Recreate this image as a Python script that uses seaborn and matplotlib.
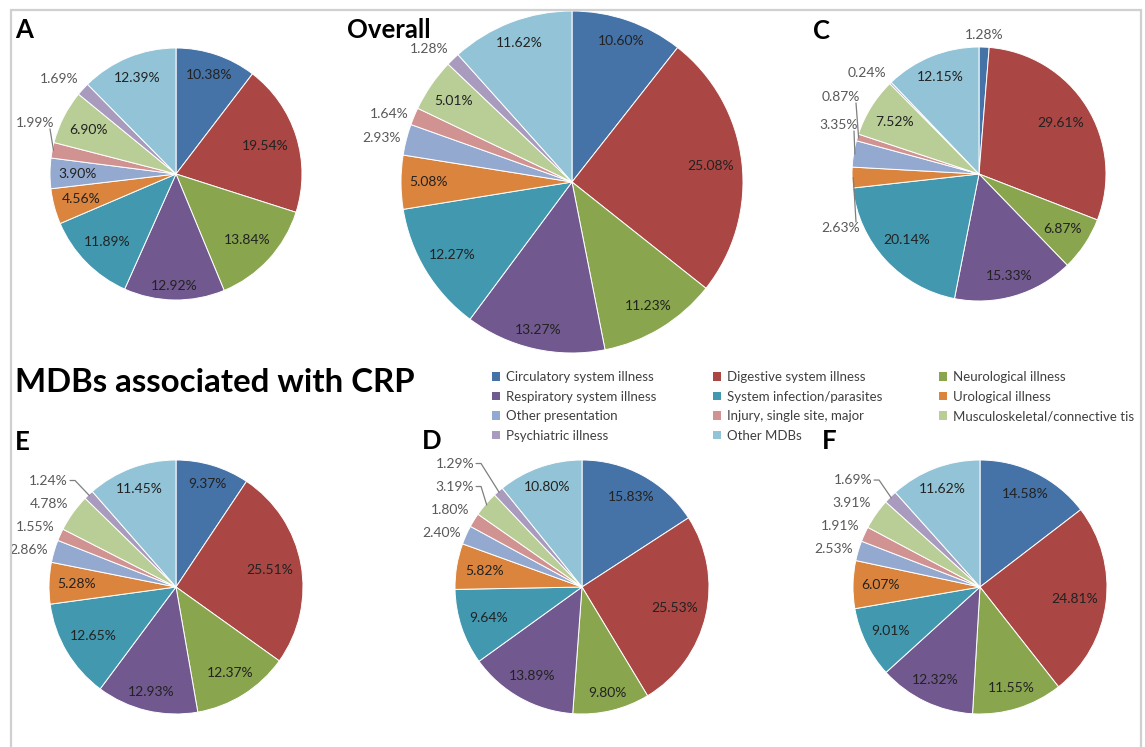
import numpy as np
import pandas as pd
import matplotlib
matplotlib.use("Agg")
import matplotlib.pyplot as plt
import seaborn as sns
from matplotlib.patches import Patch, Rectangle

# ---------------- data ----------------
categories = [
    "Circulatory system illness", "Digestive system illness", "Neurological illness",
    "Respiratory system illness", "System infection/parasites", "Urological illness",
    "Other presentation", "Injury, single site, major", "Musculoskeletal/connective tis",
    "Psychiatric illness", "Other MDBs",
]
pie_A = [10.38, 19.54, 13.84, 12.92, 11.89, 4.56, 3.90, 1.99, 6.90, 1.69, 12.39]
pie_overall = [10.60, 25.08, 11.23, 13.27, 12.27, 5.08, 2.93, 1.64, 5.01, 1.28, 11.62]
pie_C = [1.28, 29.61, 6.87, 15.33, 20.14, 2.63, 3.35, 0.87, 7.52, 0.24, 12.15]
pie_E = [9.37, 25.51, 12.37, 12.93, 12.65, 5.28, 2.86, 1.55, 4.78, 1.24, 11.45]
pie_D = [15.83, 25.53, 9.80, 13.89, 9.64, 5.82, 2.40, 1.80, 3.19, 1.29, 10.80]
pie_F = [14.58, 24.81, 11.55, 12.32, 9.01, 6.07, 2.53, 1.91, 3.91, 1.69, 11.62]
panel_titles = ["A", "Overall", "C", "E", "D", "F"]
main_title = "MDBs associated with CRP"

colors = ["#4572A7", "#AA4643", "#89A54E", "#71588F", "#4198AF", "#DB843D",
          "#93A9CF", "#D19392", "#B9CD96", "#A99BBD", "#92C3D6"]

# ---------------- style ----------------
sns.set_theme(style="white")
plt.rcParams["font.family"] = ["Lato", "DejaVu Sans"]
palette = sns.color_palette(colors)

W, H = 1145, 747
fig = plt.figure(figsize=(W / 100, H / 100), dpi=100)
fig.patch.set_facecolor("white")
renderer = fig.canvas.get_renderer()

# frame
fig.patches.append(Rectangle((11 / W, -0.02), (1141 - 11) / W, 1.02 - 10 / H,
                             transform=fig.transFigure, fill=False,
                             edgecolor="#d0d0d0", lw=1.6, zorder=0))

# layout (pixels): center x, center y, radius, outside-label indices
layout = {
    "A": (176, 174, 126, [7, 9]),
    "Overall": (572, 182, 171, [6, 7, 9]),
    "C": (979, 174, 127, [0, 5, 6, 7, 9]),
    "E": (176, 587, 127, [6, 7, 8, 9]),
    "D": (582, 587, 127, [6, 7, 8, 9]),
    "F": (980, 587, 127, [6, 7, 8, 9]),
}
# manual anchor overrides (px relative to center, y up) for crowded labels
overrides = {
    ("A", 7): (-122, 51),
    ("C", 7): (-119, 77),
    ("C", 6): (-121, 49),
    ("C", 5): (-119, -54),
}
title_pos = {  # left x, baseline y
    "A": (15, 38), "Overall": (347, 38), "C": (813, 39),
    "E": (15, 450), "D": (422, 449), "F": (822, 449),
}
data = {"A": pie_A, "Overall": pie_overall, "C": pie_C,
        "E": pie_E, "D": pie_D, "F": pie_F}

IN_COLOR = "#222222"
OUT_COLOR = "#595959"
LBL_FS = 10


def text_size(s, fs):
    t = fig.text(0, 0, s, fontsize=fs)
    bb = t.get_window_extent(renderer)
    t.remove()
    return bb.width, bb.height


def draw_pie(name):
    values = data[name]
    cx, cy, R, outside = layout[name]
    ax = fig.add_axes([(cx - R) / W, 1 - (cy + R) / H, 2 * R / W, 2 * R / H])
    ax.pie(values, colors=palette, startangle=90, counterclock=False, radius=1,
           wedgeprops=dict(edgecolor="white", linewidth=0.7))
    ax.set_xlim(-1, 1)
    ax.set_ylim(-1, 1)
    ax.set_aspect("equal")
    ax.axis("off")

    total = float(np.sum(values))
    cum = np.cumsum([0] + list(values))
    outs = []
    for i, v in enumerate(values):
        mid = np.deg2rad(90 - 360 * (cum[i] + v / 2) / total)
        c, s = np.cos(mid), np.sin(mid)
        lab = f"{v:.2f}%"
        w, h = text_size(lab, LBL_FS)
        if i not in outside:
            d = R - 8 - (abs(c) * w / 2 + abs(s) * h / 2)
            ax.text(d * c / R, d * s / R, lab, ha="center", va="center",
                    fontsize=LBL_FS, color=IN_COLOR)
        else:
            g = R + 6
            ax_x, ax_y = g * c, g * s
            if c < -0.3:
                ha = "right"
            elif c > 0.3:
                ha = "left"
            else:
                ha = "center"
            yc = ax_y
            if s > 0.6:
                yc = ax_y + h / 2
            elif s < -0.6:
                yc = ax_y - h / 2
            outs.append(dict(i=i, lab=lab, c=c, s=s, x=ax_x, y=yc, nx=ax_x, ny=yc,
                             ha=ha, w=w, h=h))
    # stacking of left-side labels (bottom to top)
    left = sorted([o for o in outs if o["ha"] == "right"], key=lambda o: o["y"])
    prev = None
    for o in left:
        if prev is not None and o["y"] < prev + 23:
            o["y"] = prev + 23
        if o["y"] - o["ny"] > 3:
            o["x"] = min(o["x"], -0.85 * R)
        prev = o["y"]
    for o in outs:
        key = (name, o["i"])
        if key in overrides:
            o["x"], o["y"] = overrides[key]
        ax.text(o["x"] / R, o["y"] / R, o["lab"], ha=o["ha"], va="center",
                fontsize=LBL_FS, color=OUT_COLOR)
        disp = np.hypot(o["x"] - o["nx"], o["y"] - o["ny"])
        if disp > 8:
            tx, ty = R * 0.99 * o["c"], R * 0.99 * o["s"]
            if abs(ty - o["y"]) > abs(tx - o["x"]) * 1.5:
                sx = o["x"] - 4 if o["ha"] == "right" else o["x"]
                sy = o["y"] - o["h"] / 2 if ty < o["y"] else o["y"] + o["h"] / 2
                pts = [(sx, sy), (tx, ty)]
            else:
                sx = o["x"] + 2 if o["ha"] == "right" else o["x"] - 2
                pts = [(sx, o["y"]), (sx + 5, o["y"]), (tx, ty)]
            xs = [p[0] / R for p in pts]
            ys = [p[1] / R for p in pts]
            ax.plot(xs, ys, color="#7f7f7f", lw=0.9, clip_on=False)


for name in ["A", "Overall", "C", "E", "D", "F"]:
    draw_pie(name)

for name in panel_titles:
    x, y = title_pos[name]
    fig.text(x / W, 1 - y / H, name, fontsize=18.5, fontweight="bold",
             color="black", ha="left", va="baseline")

fig.text(15 / W, 1 - 392 / H, main_title, fontsize=23.8, fontweight="bold",
         color="black", ha="left", va="baseline")

# legend (row-major reading order, matplotlib fills column-major)
order = [0, 3, 6, 9, 1, 4, 7, 10, 2, 5, 8]
handles = [Patch(facecolor=palette[i], edgecolor="none") for i in order]
labels = [categories[i] for i in order]
fig.legend(handles, labels, ncol=3, loc="upper left",
           bbox_to_anchor=(492 / W, 1 - 371 / H), frameon=False,
           fontsize=9.5, handlelength=0.6, handleheight=0.6, handletextpad=0.45,
           columnspacing=4.3, labelspacing=0.58, borderpad=0, borderaxespad=0,
           labelcolor="#404040")

fig.savefig("out.png", dpi=100, facecolor="white")
